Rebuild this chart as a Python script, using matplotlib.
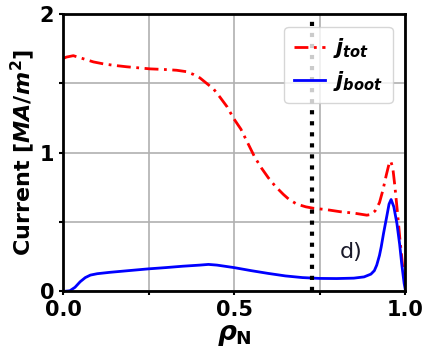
import matplotlib
matplotlib.use("Agg")
from matplotlib import pyplot as plt

plt.rcParams['mathtext.fontset'] = 'custom'
plt.rcParams['mathtext.it'] = 'DejaVu Sans:italic:bold'
plt.rcParams['mathtext.rm'] = 'DejaVu Sans:bold'
plt.rcParams['mathtext.bf'] = 'DejaVu Sans:bold'

# j_tot (red, dash-dot)
rho_tot = [0.0, 0.01, 0.03, 0.05, 0.089, 0.12, 0.15, 0.186, 0.254, 0.3, 0.332,
           0.36, 0.381, 0.4, 0.42, 0.44, 0.459, 0.48, 0.498, 0.52, 0.54, 0.56,
           0.58, 0.6, 0.62, 0.644, 0.66, 0.683, 0.71, 0.732, 0.77, 0.81, 0.85,
           0.888, 0.9, 0.912, 0.925, 0.935, 0.945, 0.953, 0.958, 0.964, 0.97,
           0.978, 0.985, 0.993, 1.0]
j_tot = [1.68, 1.69, 1.70, 1.685, 1.655, 1.64, 1.63, 1.62, 1.605, 1.60, 1.595,
         1.585, 1.565, 1.54, 1.50, 1.46, 1.40, 1.33, 1.25, 1.17, 1.07, 0.97,
         0.89, 0.82, 0.76, 0.70, 0.665, 0.63, 0.61, 0.60, 0.59, 0.575, 0.565,
         0.55, 0.555, 0.58, 0.64, 0.73, 0.84, 0.92, 0.94, 0.89, 0.76,
         0.56, 0.37, 0.18, 0.06]

# j_boot (blue, solid)
rho_boot = [0.0, 0.02, 0.035, 0.05, 0.065, 0.08, 0.1, 0.137, 0.2, 0.25, 0.3,
            0.35, 0.4, 0.425, 0.45, 0.5, 0.55, 0.6, 0.65, 0.7, 0.75, 0.8, 0.85,
            0.88, 0.9, 0.91, 0.917, 0.925, 0.93, 0.937, 0.947, 0.953, 0.959,
            0.967, 0.976, 0.984, 0.99, 0.997, 1.0]
j_boot = [0.0, 0.005, 0.03, 0.07, 0.1, 0.118, 0.128, 0.138, 0.152, 0.163, 0.172,
          0.182, 0.19, 0.195, 0.19, 0.172, 0.15, 0.13, 0.112, 0.1, 0.094, 0.093,
          0.096, 0.105, 0.125, 0.15, 0.19, 0.26, 0.32, 0.42, 0.55, 0.63, 0.663,
          0.61, 0.49, 0.34, 0.2, 0.06, 0.02]

rho_mark = 0.729

fig = plt.figure(figsize=(4.26, 3.52), dpi=100)
ax = fig.add_axes([0.148, 0.172, 0.803, 0.788])

line_tot, = ax.plot(rho_tot, j_tot, color='red', linewidth=2, linestyle='-.',
                    label=r'$j_{tot}$')
line_tot.set_dashes([5, 2, 1, 2])
ax.plot(rho_boot, j_boot, color='blue', linewidth=2, linestyle='-', label=r'$j_{boot}$')
ax.axvline(rho_mark, color='black', linewidth=3, linestyle=':')
ax.text(0.81, 0.24, 'd)', fontsize=16, color='#1a1a2a')

ax.set_xlim(0, 1)
ax.set_ylim(0, 2)
ax.set_xticks([0, 0.25, 0.5, 0.75, 1.0])
ax.set_xticklabels(['0.0', '', '0.5', '', '1.0'])
ax.set_yticks([0, 0.5, 1, 1.5, 2])
ax.set_yticklabels(['0', '', '1', '', '2'])
ax.tick_params(labelsize=15, width=1.5, length=3)
for lab in ax.get_xticklabels() + ax.get_yticklabels():
    lab.set_fontweight('bold')
for sp in ax.spines.values():
    sp.set_linewidth(2)
ax.grid(True, color='#b0b0b0', linewidth=1.2)

ax.set_xlabel(r'$\rho_\mathbf{N}$', fontsize=19, labelpad=1)
ax.set_ylabel(r'Current [$MA/m^2$]', fontsize=16, fontweight='bold', labelpad=2)

ax.legend(loc='upper right', fontsize=15, handlelength=1.5, borderaxespad=0.6,
          handletextpad=0.4, labelspacing=0.45, borderpad=0.45)

plt.savefig('out.png', dpi=100)
